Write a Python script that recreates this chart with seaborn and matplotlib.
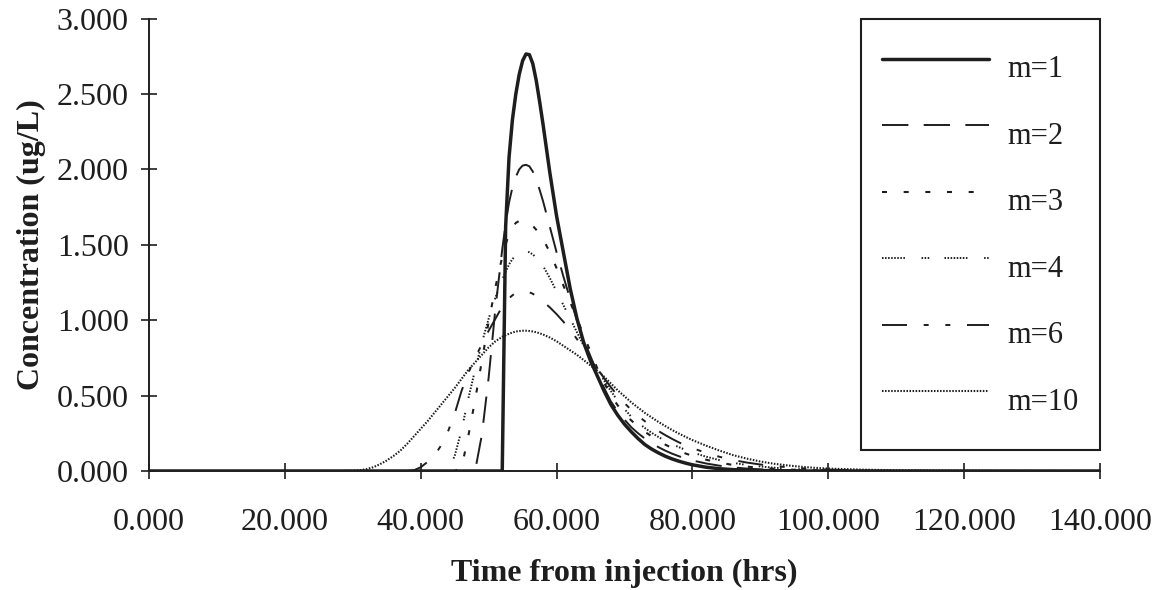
import matplotlib
matplotlib.use("Agg")
import matplotlib.pyplot as plt
from matplotlib.lines import Line2D
from matplotlib.ticker import FormatStrFormatter
import seaborn as sns
import pandas as pd

# ---------------- data ----------------
time_hrs = [0, 10, 20, 25, 28,
            30, 31, 32, 33, 34, 35, 36, 37, 38, 39, 40, 41, 42, 43, 44, 45, 46,
            47, 48, 49, 50, 51, 52, 52.5,
            53, 53.5, 54, 54.5, 55, 55.5, 56, 56.5, 57, 57.5, 58, 59, 60,
            61, 62, 63, 64, 65, 66, 67, 68, 69, 70, 71, 72, 73, 74, 75, 76, 77, 78, 79, 80,
            82, 84, 86, 88, 90, 92, 94, 96, 98, 100,
            105, 110, 120, 130, 140]

m1 = ([0, 0, 0, 0, 0]
      + [0] * 23
      + [1.62]
      + [2.08, 2.33, 2.50, 2.63, 2.72, 2.765, 2.76, 2.70, 2.59, 2.45, 2.30, 1.98, 1.69]
      + [1.45, 1.21, 1.01, 0.85, 0.73, 0.63, 0.53, 0.44, 0.37, 0.31, 0.26, 0.215, 0.175,
         0.145, 0.12, 0.098, 0.08, 0.065, 0.052, 0.041]
      + [0.025, 0.015, 0.009, 0.005, 0.003, 0.002, 0.001, 0, 0, 0]
      + [0, 0, 0, 0, 0])

m2 = ([0, 0, 0, 0, 0]
      + [0] * 18
      + [0.0]
      + [0.24, 0.62, 1.08, 1.47]
      + [1.64]
      + [1.78, 1.88, 1.95, 2.00, 2.025, 2.03, 2.02, 1.985, 1.93, 1.865, 1.79, 1.62, 1.45]
      + [1.29, 1.14, 1.00, 0.87, 0.76, 0.65, 0.55, 0.46, 0.395, 0.34, 0.29, 0.25, 0.215,
         0.185, 0.158, 0.135, 0.115, 0.098, 0.083, 0.07]
      + [0.05, 0.035, 0.024, 0.016, 0.011, 0.007, 0.005, 0.003, 0.002, 0.001]
      + [0, 0, 0, 0, 0])

m3 = ([0, 0, 0, 0, 0]
      + [0] * 16
      + [0.02]
      + [0.23, 0.47, 0.73, 0.99, 1.22, 1.42]
      + [1.50]
      + [1.575, 1.615, 1.645, 1.658, 1.66, 1.655, 1.645, 1.625, 1.60, 1.572, 1.54, 1.45, 1.345]
      + [1.23, 1.12, 1.01, 0.90, 0.79, 0.68, 0.585, 0.50, 0.435, 0.38, 0.335, 0.295, 0.26,
         0.23, 0.20, 0.175, 0.152, 0.133, 0.116, 0.10]
      + [0.075, 0.055, 0.04, 0.029, 0.021, 0.015, 0.01, 0.007, 0.005, 0.003]
      + [0, 0, 0, 0, 0])

m4 = ([0, 0, 0, 0, 0]
      + [0] * 15
      + [0.10]
      + [0.27, 0.48, 0.67, 0.85, 1.01, 1.15, 1.27]
      + [1.32]
      + [1.37, 1.405, 1.43, 1.447, 1.455, 1.456, 1.45, 1.436, 1.415, 1.39, 1.36, 1.28, 1.19]
      + [1.10, 1.01, 0.92, 0.83, 0.745, 0.67, 0.60, 0.53, 0.465, 0.41, 0.36, 0.32, 0.285,
         0.253, 0.225, 0.20, 0.178, 0.158, 0.14, 0.123]
      + [0.095, 0.072, 0.054, 0.04, 0.03, 0.022, 0.016, 0.011, 0.008, 0.005]
      + [0.001, 0, 0, 0, 0])

m6 = ([0, 0, 0, 0, 0]
      + [0] * 8
      + [0.0]
      + [0.005, 0.025, 0.06, 0.10, 0.17, 0.26, 0.38, 0.53, 0.65, 0.75, 0.84, 0.93, 1.01, 1.09]
      + [1.12]
      + [1.145, 1.165, 1.18, 1.187, 1.19, 1.19, 1.185, 1.175, 1.16, 1.143, 1.125, 1.085, 1.04]
      + [0.99, 0.935, 0.875, 0.81, 0.745, 0.68, 0.615, 0.555, 0.50, 0.45, 0.405, 0.365, 0.33,
         0.295, 0.265, 0.238, 0.213, 0.19, 0.17, 0.152]
      + [0.12, 0.094, 0.073, 0.056, 0.043, 0.033, 0.025, 0.018, 0.013, 0.009]
      + [0.003, 0.001, 0, 0, 0])

m10 = ([0, 0, 0, 0, 0]
       + [0.002]
       + [0.005, 0.012, 0.025, 0.045, 0.07, 0.10, 0.135, 0.18, 0.23, 0.28, 0.33, 0.385, 0.44,
          0.495, 0.55, 0.61, 0.67, 0.72, 0.77, 0.82, 0.86, 0.89]
       + [0.90]
       + [0.91, 0.918, 0.925, 0.928, 0.93, 0.93, 0.928, 0.925, 0.92, 0.913, 0.905, 0.885, 0.86]
       + [0.83, 0.80, 0.77, 0.735, 0.70, 0.665, 0.625, 0.58, 0.535, 0.495, 0.455, 0.42, 0.385,
          0.355, 0.325, 0.298, 0.272, 0.248, 0.226, 0.205]
       + [0.168, 0.135, 0.105, 0.082, 0.063, 0.048, 0.037, 0.028, 0.021, 0.016]
       + [0.009, 0.005, 0.002, 0.001, 0])

series_names = ["m=1", "m=2", "m=3", "m=4", "m=6", "m=10"]
series_values = [m1, m2, m3, m4, m6, m10]

x_ticks = [0, 20, 40, 60, 80, 100, 120, 140]
y_ticks = [0.0, 0.5, 1.0, 1.5, 2.0, 2.5, 3.0]
x_label = "Time from injection (hrs)"
y_label = "Concentration (ug/L)"

for v in series_values:
    assert len(v) == len(time_hrs), len(v)

# ---------------- styling ----------------
sns.set_style("ticks")
plt.rcParams["font.family"] = ["Liberation Serif", "DejaVu Serif"]
plt.rcParams["lines.scale_dashes"] = False

INK = "#1e1e1e"
dot = [1.1, 1.1]
dash_map = {
    "m=1": "",
    "m=2": (19, 11),
    "m=3": (3.6, 12),
    "m=4": tuple(dot * 7 + [1.1, 12] + dot * 2 + [1.1, 11]),
    "m=6": (18, 12, 3.6, 12, 3.6, 12),
    "m=10": (1.1, 1.1),
}
width_map = {"m=1": 2.5, "m=2": 1.4, "m=3": 1.5, "m=4": 1.4, "m=6": 1.4, "m=10": 1.5}
palette = {n: INK for n in series_names}

df = pd.concat(
    [pd.DataFrame({"time": time_hrs, "conc": v, "series": n})
     for n, v in zip(series_names, series_values)],
    ignore_index=True,
)

fig = plt.figure(figsize=(11.58, 5.90), dpi=100)
ax = fig.add_axes([0.1287, 0.2017, 0.8212, 0.7669])

sns.lineplot(
    data=df, x="time", y="conc", hue="series", style="series", size="series",
    hue_order=series_names, style_order=series_names, size_order=series_names,
    palette=palette, dashes=dash_map, sizes=width_map,
    estimator=None, sort=False, legend=False, ax=ax,
)

ax.set_xlim(0, 140)
ax.set_ylim(0, 3.0)
ax.set_xticks(x_ticks)
ax.set_yticks(y_ticks)
ax.xaxis.set_major_formatter(FormatStrFormatter("%.3f"))
ax.yaxis.set_major_formatter(FormatStrFormatter("%.3f"))

sns.despine(ax=ax)
for s in ("left", "bottom"):
    ax.spines[s].set_linewidth(1.4)
    ax.spines[s].set_color(INK)

ax.tick_params(axis="both", direction="inout", length=11, width=1.2, color=INK,
               labelsize=23, labelcolor=INK)
ax.tick_params(axis="x", pad=21)
ax.tick_params(axis="y", pad=9)

ax.set_xlabel(x_label, fontsize=23, fontweight="bold", color=INK, labelpad=16)
ax.set_ylabel(y_label, fontsize=23, fontweight="bold", color=INK, labelpad=8)

handles = []
for n in series_names:
    d = dash_map[n]
    if d == "":
        h = Line2D([], [], color=INK, lw=width_map[n], linestyle="-")
    else:
        h = Line2D([], [], color=INK, lw=width_map[n], dashes=d)
    handles.append(h)

leg = ax.legend(handles, series_names, loc="upper right", bbox_to_anchor=(1.0, 1.0),
                borderaxespad=0.0, fontsize=22, frameon=True, fancybox=False,
                framealpha=1.0, edgecolor=INK, borderpad=0.7, handlelength=3.5,
                handletextpad=0.6, handleheight=2.45, labelspacing=0.34)
leg.get_frame().set_linewidth(1.5)
for t in leg.get_texts():
    t.set_color(INK)

fig.savefig("out.png", dpi=100, facecolor="white")
